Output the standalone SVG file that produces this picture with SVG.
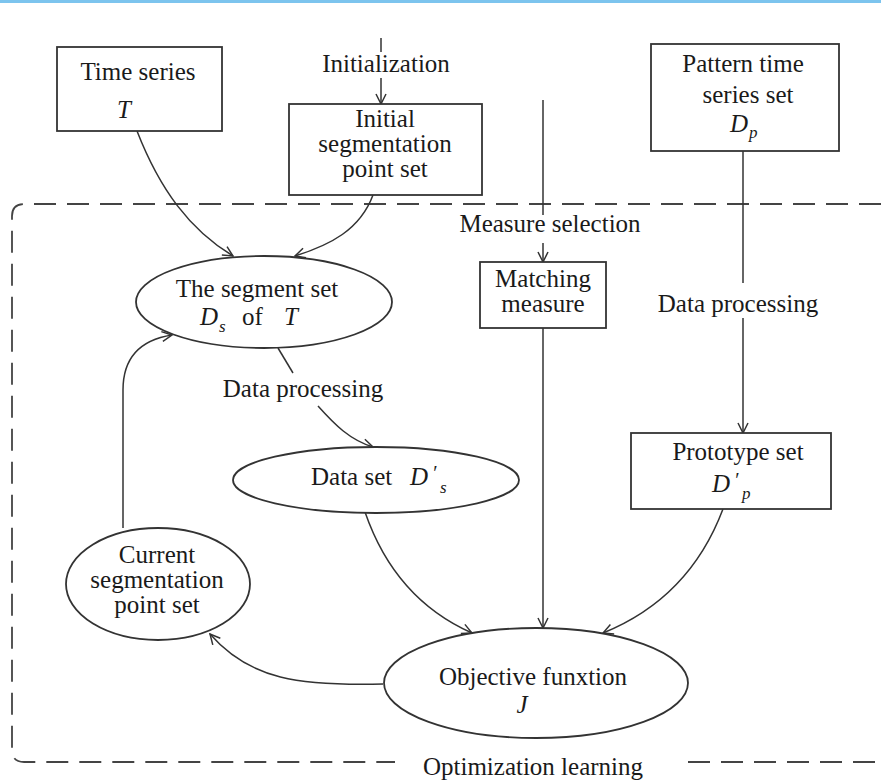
<svg xmlns="http://www.w3.org/2000/svg" width="881" height="783" viewBox="0 0 881 783">
<style>
text{font-family:"Liberation Serif","Times New Roman",serif;font-size:25px;fill:#1a1a1a}
.m{font-style:italic}
.sub{font-size:17px;font-style:italic}
.pr{font-size:20px;font-style:italic}
.c{text-anchor:middle}
.box{fill:#fff;stroke:#333;stroke-width:1.8}
.ell{fill:#fff;stroke:#333;stroke-width:1.8}
.ln{fill:none;stroke:#333;stroke-width:1.5}
.dash{fill:none;stroke:#444;stroke-width:1.8;stroke-dasharray:22 11}
</style>
<defs>
<marker id="arr" viewBox="0 0 12 12" refX="11" refY="6" markerWidth="12" markerHeight="12" markerUnits="userSpaceOnUse" orient="auto">
<path d="M1,1 L11,6 L1,11" fill="none" stroke="#333" stroke-width="1.5"/>
</marker>
</defs>
<rect x="0" y="0" width="881" height="3" fill="#7cc4ee"/>
<g id="frame">
<path class="dash" d="M881,204 L24,204 Q12,204 12,216 L12,750 Q12,762 24,762 L395,762"/>
<path class="dash" d="M688,762 L881,762"/>
<text class="c" x="533" y="775">Optimization learning</text>
</g>
<g id="connectors">
<path class="ln" d="M381,38 L381,52"/>
<path class="ln" d="M381,78 L381,104" marker-end="url(#arr)"/>
<path class="ln" d="M137,131 C160,190 190,230 233,256" marker-end="url(#arr)"/>
<path class="ln" d="M373,195 C360,230 330,245 295,256" marker-end="url(#arr)"/>
<path class="ln" d="M543,100 L543,215"/>
<path class="ln" d="M543,243 L543,262" marker-end="url(#arr)"/>
<path class="ln" d="M543,328 L543,628" marker-end="url(#arr)"/>
<path class="ln" d="M743,151 L743,283"/>
<path class="ln" d="M743,318 L743,433" marker-end="url(#arr)"/>
<path class="ln" d="M278,348 L293,373"/>
<path class="ln" d="M318,406 C335,425 350,440 373,447" marker-end="url(#arr)"/>
<path class="ln" d="M365,512 C385,570 420,610 472,633" marker-end="url(#arr)"/>
<path class="ln" d="M723,509 C700,570 660,610 603,633" marker-end="url(#arr)"/>
<path class="ln" d="M383,684 C300,686 250,680 210,634" marker-end="url(#arr)"/>
<path class="ln" d="M123,528 L123,390 C123,358 140,340 172,335" marker-end="url(#arr)"/>
<text class="c" x="386" y="72">Initialization</text>
<text class="c" x="550" y="232">Measure selection</text>
<text class="c" x="738" y="312">Data processing</text>
<text class="c" x="303" y="397">Data processing</text>
</g>
<g id="time-series">
<rect class="box" x="57" y="47" width="165" height="84"/>
<text class="c"><tspan x="138" y="80">Time series</tspan><tspan class="m" x="124" y="118">T</tspan></text>
</g>
<g id="initial-segmentation">
<rect class="box" x="289" y="104" width="193" height="91"/>
<text class="c"><tspan x="385" y="127">Initial</tspan><tspan x="385" y="152">segmentation</tspan><tspan x="385" y="177">point set</tspan></text>
</g>
<g id="pattern-set">
<rect class="box" x="651" y="44" width="188" height="107"/>
<text><tspan class="c" x="743" y="72">Pattern time</tspan><tspan class="c" x="748" y="103">series set</tspan><tspan class="m" x="730" y="132">D</tspan><tspan class="sub" x="749" y="138">p</tspan></text>
</g>
<g id="matching-measure">
<rect class="box" x="480" y="262" width="126" height="66"/>
<text class="c"><tspan x="543" y="287">Matching</tspan><tspan x="543" y="312">measure</tspan></text>
</g>
<g id="segment-set">
<ellipse class="ell" cx="264" cy="302" rx="128" ry="46"/>
<text><tspan class="c" x="257" y="297">The segment set</tspan><tspan class="m" x="200" y="325">D</tspan><tspan class="sub" x="219" y="332">s</tspan><tspan x="242" y="325">of</tspan><tspan class="m" x="284" y="325">T</tspan></text>
</g>
<g id="data-set">
<ellipse class="ell" cx="376" cy="480" rx="143" ry="33"/>
<text><tspan x="311" y="485">Data set</tspan><tspan class="m" x="410" y="485">D</tspan><tspan class="pr" x="432" y="480">′</tspan><tspan class="sub" x="440" y="493">s</tspan></text>
</g>
<g id="prototype-set">
<rect class="box" x="631" y="433" width="200" height="76"/>
<text><tspan class="c" x="738" y="460">Prototype set</tspan><tspan class="m" x="712" y="492">D</tspan><tspan class="pr" x="734" y="487">′</tspan><tspan class="sub" x="742" y="499">p</tspan></text>
</g>
<g id="current-segmentation">
<ellipse class="ell" cx="158" cy="584" rx="92" ry="56"/>
<text class="c"><tspan x="157" y="563">Current</tspan><tspan x="157" y="588">segmentation</tspan><tspan x="157" y="613">point set</tspan></text>
</g>
<g id="objective">
<ellipse class="ell" cx="536" cy="683" rx="152" ry="55"/>
<text class="c"><tspan x="533" y="685">Objective funxtion</tspan><tspan class="m" x="522" y="713">J</tspan></text>
</g>
</svg>
